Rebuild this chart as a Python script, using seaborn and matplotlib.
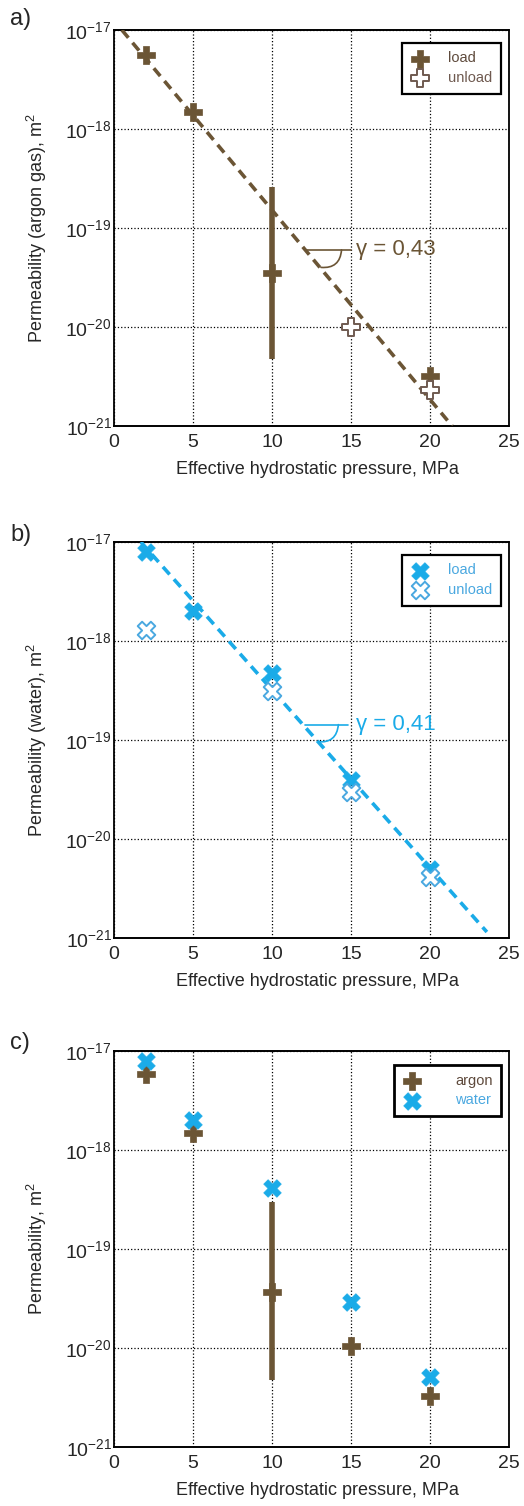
import matplotlib
matplotlib.use('Agg')
import matplotlib.pyplot as plt
from matplotlib.ticker import FixedLocator, FuncFormatter, NullLocator
import numpy as np
import pandas as pd
import seaborn as sns

BROWN = '#6b5535'
BROWN_TXT = '#5e4a3c'
BROWN_LIGHT = '#6f5a50'
BLUE = '#1aabe8'
BLUE_TXT = '#4aa8e0'

# a) argon gas permeability
argon_load_p = [2, 5, 10, 20]
argon_load_k = [5.6e-18, 1.5e-18, 3.5e-20, 3.2e-21]
argon_unload_p = [15, 20]
argon_unload_k = [1.0e-20, 2.3e-21]
argon_err_p = [10]
argon_err_lo = [4.8e-21]
argon_err_hi = [2.6e-19]
argon_fit_p = [0.5, 21.4]
argon_fit_k = [1e-17, 1e-21]
gamma_a_p = [12.1, 15.0]
gamma_a_k = [6.0e-20, 6.0e-20]

# b) water permeability
water_load_p = [2, 5, 10, 15, 20]
water_load_k = [8.0e-18, 2.0e-18, 4.7e-19, 3.9e-20, 5.0e-21]
water_unload_p = [2, 10, 15, 20]
water_unload_k = [1.3e-18, 3.1e-19, 3.0e-20, 4.1e-21]
water_fit_p = [1.7, 23.6]
water_fit_k = [1e-17, 1.15e-21]
gamma_b_p = [12.1, 14.8]
gamma_b_k = [1.43e-19, 1.43e-19]

# c) comparison
comp_p = [2, 5, 10, 15, 20]
comp_argon_k = [5.9e-18, 1.5e-18, 3.7e-20, 1.05e-20, 3.3e-21]
comp_water_k = [7.9e-18, 2.0e-18, 4.1e-19, 2.9e-20, 5.1e-21]
comp_err_p = [10]
comp_err_lo = [4.7e-21]
comp_err_hi = [2.96e-19]

x_ticks = [0, 5, 10, 15, 20, 25]
y_ticks = [1e-21, 1e-20, 1e-19, 1e-18, 1e-17]

sns.set_style('white')
plt.rcParams['font.family'] = ['Liberation Sans', 'DejaVu Sans']
plt.rcParams['mathtext.fontset'] = 'custom'
plt.rcParams['mathtext.rm'] = 'Liberation Sans'


def style_axes(ax, ylabel):
    ax.set_yscale('log')
    ax.set_xlim(0, 25)
    ax.set_ylim(1e-21, 1e-17)
    ax.xaxis.set_major_locator(FixedLocator(x_ticks))
    ax.yaxis.set_major_locator(FixedLocator(y_ticks))
    ax.yaxis.set_minor_locator(NullLocator())
    ax.yaxis.set_major_formatter(FuncFormatter(
        lambda v, p: r'$\mathregular{10^{%d}}$' % round(np.log10(v))))
    ax.grid(True, which='major', color='black', linestyle=':', linewidth=0.9)
    ax.tick_params(axis='x', length=0, pad=6, labelsize=14)
    ax.tick_params(axis='y', length=0, pad=1.5, labelsize=14)
    for side in ['left', 'right']:
        ax.spines[side].set_color('black')
        ax.spines[side].set_linewidth(1.3)
    for side in ['top', 'bottom']:
        ax.spines[side].set_color('black')
        ax.spines[side].set_linewidth(1.4)
        ax.spines[side].set_linestyle((0, (3, 1)))
    ax.set_xlabel('Effective hydrostatic pressure, MPa', fontsize=13)
    ax.xaxis.set_label_coords(0.515, -0.088)
    ax.set_ylabel(ylabel, fontsize=13)
    ax.yaxis.set_label_coords(-0.165, 0.5)


def add_legend(ax, colors, anchor, textpad, lw):
    leg = ax.legend(loc='upper right', bbox_to_anchor=anchor, fontsize=10.5,
                    frameon=True, fancybox=False, framealpha=1, edgecolor='black',
                    handletextpad=textpad, labelspacing=0.4, borderpad=0.6,
                    handlelength=1.3, borderaxespad=0)
    leg.get_frame().set_linewidth(lw)
    for t, c in zip(leg.get_texts(), colors):
        t.set_color(c)
    return leg


fig = plt.figure(figsize=(5.24, 15.06), dpi=100)
W = 395 / 524
H = 396 / 1506
ax_a = fig.add_axes([114 / 524, 1 - 426 / 1506, W, H])
ax_b = fig.add_axes([114 / 524, 1 - 938 / 1506, W, H])
ax_c = fig.add_axes([114 / 524, 1 - 1447 / 1506, W, H])

# ---- a) argon ----
ax = ax_a
ax.plot(argon_fit_p, argon_fit_k, color=BROWN, linewidth=2.6, linestyle=(0, (2.8, 1.8)), zorder=3)
ax.vlines(argon_err_p, argon_err_lo, argon_err_hi, color=BROWN, linewidth=4, zorder=4)
sns.scatterplot(x=argon_load_p, y=argon_load_k, marker='P', s=160, color=BROWN,
                edgecolor=BROWN, linewidth=0.5, label='load', ax=ax, zorder=5)
sns.scatterplot(x=argon_unload_p, y=argon_unload_k, marker='P', s=160, color='white',
                edgecolor=BROWN_LIGHT, linewidth=1.4, label='unload', ax=ax, zorder=5)
ax.plot(gamma_a_p, gamma_a_k, color=BROWN, linewidth=1.2)
ax.annotate('', xy=(13.1, 4.0e-20), xytext=(14.4, 6.0e-20),
            arrowprops=dict(arrowstyle='-', color=BROWN, lw=1.2, shrinkA=0, shrinkB=0,
                            connectionstyle='arc3,rad=-0.5'))
ax.text(15.3, 6.0e-20, 'γ = 0,43', color=BROWN, fontsize=16, va='center', ha='left')
style_axes(ax, 'Permeability (argon gas), m$^{2}$')
add_legend(ax, [BROWN_TXT, BROWN_LIGHT], (0.98, 0.968), 1.25, 1.6)

# ---- b) water ----
ax = ax_b
ax.plot(water_fit_p, water_fit_k, color=BLUE, linewidth=2.6, linestyle=(0, (2.8, 1.8)), zorder=3)
sns.scatterplot(x=water_load_p, y=water_load_k, marker='X', s=160, color=BLUE,
                edgecolor=BLUE, linewidth=0.5, label='load', ax=ax, zorder=5)
sns.scatterplot(x=water_unload_p, y=water_unload_k, marker='X', s=160, color='white',
                edgecolor=BLUE_TXT, linewidth=1.4, label='unload', ax=ax, zorder=5)
ax.plot(gamma_b_p, gamma_b_k, color=BLUE, linewidth=1.2)
ax.annotate('', xy=(12.9, 9.6e-20), xytext=(14.2, 1.43e-19),
            arrowprops=dict(arrowstyle='-', color=BLUE, lw=1.2, shrinkA=0, shrinkB=0,
                            connectionstyle='arc3,rad=-0.5'))
ax.text(15.3, 1.43e-19, 'γ = 0,41', color=BLUE, fontsize=16, va='center', ha='left')
style_axes(ax, 'Permeability (water), m$^{2}$')
add_legend(ax, [BLUE_TXT, BLUE_TXT], (0.98, 0.968), 1.25, 1.6)

# ---- c) comparison ----
ax = ax_c
ax.vlines(comp_err_p, comp_err_lo, comp_err_hi, color=BROWN, linewidth=4, zorder=4)
sns.scatterplot(x=comp_p, y=comp_argon_k, marker='P', s=160, color=BROWN,
                edgecolor=BROWN, linewidth=0.5, label='argon', ax=ax, zorder=5)
sns.scatterplot(x=comp_p, y=comp_water_k, marker='X', s=160, color=BLUE,
                edgecolor=BLUE, linewidth=0.5, label='water', ax=ax, zorder=5)
style_axes(ax, 'Permeability, m$^{2}$')
add_legend(ax, [BROWN_TXT, BLUE_TXT], (0.981, 0.965), 2.3, 2.0)

# panel letters
fig.text(10 / 524, 1 - 19 / 1506, 'a)', fontsize=17, va='center', ha='left')
fig.text(10 / 524, 1 - 535 / 1506, 'b)', fontsize=17, va='center', ha='left')
fig.text(10 / 524, 1 - 1043 / 1506, 'c)', fontsize=17, va='center', ha='left')

fig.savefig('out.png', dpi=100)
